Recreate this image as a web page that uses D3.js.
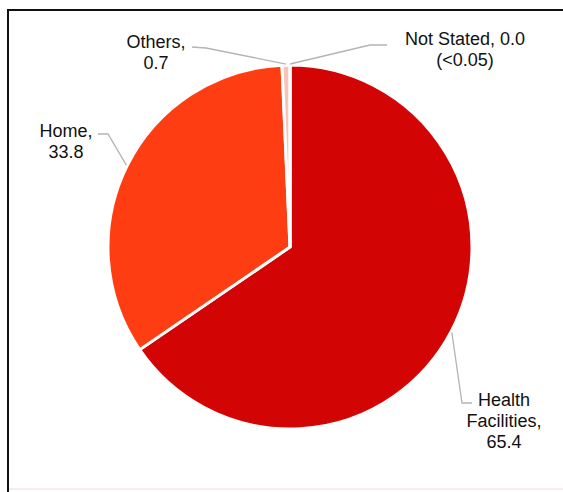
<!DOCTYPE html>
<html>
<head>
<meta charset="utf-8">
<script src="https://cdn.jsdelivr.net/npm/d3@7"></script>
<style>
  html, body { margin: 0; padding: 0; background: #fff; }
  svg { display: block; }
  text { font-family: "Liberation Sans", Arial, sans-serif; fill: #111; }
</style>
</head>
<body>
<script>
// Place of delivery, per cent
const categories = ["Health Facilities", "Home", "Others", "Not Stated"];
const values = [65.4, 33.8, 0.7, 0.0];
const valueText = ["65.4", "33.8", "0.7", "0.0"];
const sliceColors = ["#d20404", "#ff3d12", "#f6c4b8", "#f4d0c8"];

// Label text lines for each slice
const labelLines = [
  ["Health", "Facilities,", "65.4"],
  ["Home,", "33.8"],
  ["Others,", "0.7"],
  ["Not Stated, 0.0", "(<0.05)"]
];

const width = 563, height = 492;
const cx = 290, cy = 247, radius = 182;

// Label anchor (centre of first baseline) and leader elbow per slice
const labelLayout = [
  { x: 504, y: 406, elbow: [462, 403], end: [472, 403] },
  { x: 66,  y: 137, elbow: [108, 134], end: [98, 134] },
  { x: 156, y: 48,  elbow: [206, 48],  end: [192, 47] },
  { x: 465, y: 45,  elbow: [370, 45],  end: [387, 45] }
];

const svg = d3.select("body").append("svg")
  .attr("width", width).attr("height", height);

// Frame
svg.append("line").attr("x1", 8).attr("y1", 9).attr("x2", 8).attr("y2", height)
  .attr("stroke", "#111").attr("stroke-width", 2);
svg.append("line").attr("x1", 7).attr("y1", 10).attr("x2", width).attr("y2", 10)
  .attr("stroke", "#111").attr("stroke-width", 2);
svg.append("line").attr("x1", 9).attr("y1", 489).attr("x2", width).attr("y2", 489)
  .attr("stroke", "#f3e6e2").attr("stroke-width", 1.5);

const data = categories.map((c, i) => ({ category: c, value: values[i], idx: i }));

const pie = d3.pie().sort(null).value(d => d.value);
const arcs = pie(data);

const arc = d3.arc().innerRadius(0).outerRadius(radius);

const g = svg.append("g").attr("transform", `translate(${cx},${cy})`);

g.selectAll("path.slice")
  .data(arcs)
  .join("path")
  .attr("class", "slice")
  .attr("d", arc)
  .attr("fill", d => sliceColors[d.data.idx])
  .attr("stroke", "#fff")
  .attr("stroke-width", 3)
  .attr("stroke-linejoin", "miter");

// Leader lines from slice edge to labels
arcs.forEach(d => {
  const lay = labelLayout[d.data.idx];
  const mid = (d.startAngle + d.endAngle) / 2;
  const px = cx + Math.sin(mid) * (radius + 1);
  const py = cy - Math.cos(mid) * (radius + 1);
  svg.append("polyline")
    .attr("points", [[px, py], lay.elbow, lay.end].map(p => p.join(",")).join(" "))
    .attr("fill", "none")
    .attr("stroke", "#b4b4b4")
    .attr("stroke-width", 1.3);
});

// Labels
arcs.forEach(d => {
  const i = d.data.idx;
  const lay = labelLayout[i];
  const t = svg.append("text")
    .attr("text-anchor", "middle")
    .attr("font-size", 18);
  labelLines[i].forEach((line, k) => {
    t.append("tspan").attr("x", lay.x).attr("y", lay.y + k * 21).text(line);
  });
});
</script>
</body>
</html>
